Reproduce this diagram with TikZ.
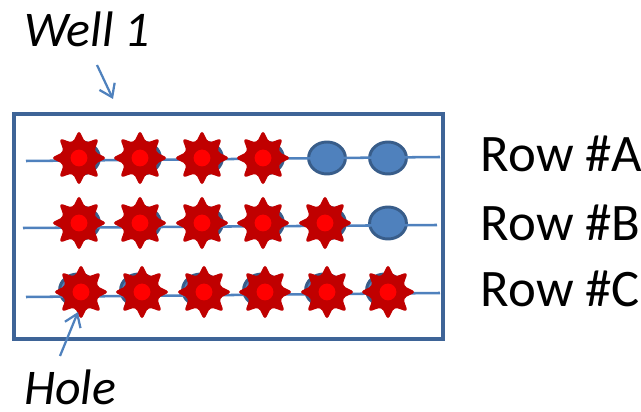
\documentclass[tikz,border=0pt]{standalone}
\usepackage{fontspec}
\setmainfont{Carlito}
\usetikzlibrary{shapes.geometric}
\usetikzlibrary{arrows.meta}

\definecolor{boxblue}{HTML}{3E6497}
\definecolor{lineblue}{HTML}{4F81BD}
\definecolor{holeedge}{HTML}{385D8A}
\definecolor{burstred}{HTML}{C00000}
\definecolor{corered}{HTML}{FF0000}

\tikzset{
  wellbox/.style={draw=boxblue, line width=2.85pt, minimum width=10.72cm, minimum height=5.62cm, inner sep=0pt},
  hole/.style={ellipse, draw=holeedge, fill=lineblue, line width=2.1pt, minimum width=0.92cm, minimum height=0.8cm, inner sep=0pt},
  burst/.style={star, star points=8, star point ratio=1.7, minimum size=1.4cm, inner sep=0pt, fill=burstred, rounded corners=2.6pt},
  core/.style={circle, fill=corered, minimum size=0.42cm, inner sep=0pt},
  rowline/.style={draw=lineblue, line width=1.8pt},
  pointer/.style={draw=lineblue, line width=1.6pt, -{Straight Barb[length=3mm,width=4.2mm]}},
  rowlabel/.style={anchor=base west, font=\fontsize{37.5}{40}\selectfont},
  callout/.style={anchor=base west, inner sep=0pt, font=\fontsize{35.5}{38}\selectfont\itshape},
}

\begin{document}
\begin{tikzpicture}[x=0.025cm, y=-0.025cm]
        \useasboundingbox (0,0) rectangle (641,412);

        % The well outline
        \node[wellbox] (well) at (228.5,226.5) {};

        % Holes of the three rows
        \foreach \col/\x in {1/81,2/142,3/204,4/265,5/327,6/388} {
            \node[hole] (holeA\col) at (\x,158) {};
            \node[hole] (holeB\col) at (\x,223) {};
            \node[hole] (holeC\col) at (\x-3,290) {};
        }

        % Threads through the rows
        \coordinate (rowAleft) at (26,161);
        \coordinate (rowAright) at (440,157);
        \coordinate (rowBleft) at (23,228);
        \coordinate (rowBright) at (437,225);
        \coordinate (rowCleft) at (26,297);
        \coordinate (rowCright) at (440,293);
        \draw[rowline] (rowAleft) -- (rowAright);
        \draw[rowline] (rowBleft) -- (rowBright);
        \draw[rowline] (rowCleft) -- (rowCright);

        % Bursts on the filled holes
        \foreach \col in {1,...,4} {
            \node[burst] (burstA\col) at ([xshift=-2*0.025cm]holeA\col) {};
            \node[core] at (burstA\col) {};
        }
        \foreach \col in {1,...,5} {
            \node[burst] (burstB\col) at ([xshift=-2*0.025cm]holeB\col) {};
            \node[core] at (burstB\col) {};
        }
        \foreach \col in {1,...,6} {
            \node[burst] (burstC\col) at ([xshift=3*0.025cm,yshift=-2*0.025cm]holeC\col) {};
            \node[core] at (burstC\col) {};
        }

        % Row labels
        \node[rowlabel] (labelA) at (476,172) {Row \#A};
        \node[rowlabel] (labelB) at (476,241) {Row \#B};
        \node[rowlabel] (labelC) at (476,307) {Row \#C};

        % Callouts
        \node[callout] (welltext) at (24,47) {Well 1};
        \node[callout] (holetext) at (24,405) {Hole};
        \coordinate (welltail) at (97,65);
        \coordinate (wellhead) at (113,99);
        \coordinate (holetail) at (60,356);
        \coordinate (holehead) at (78,312);
        \draw[pointer] (welltail) -- (wellhead);
        \draw[pointer] (holetail) -- (holehead);
\end{tikzpicture}
\end{document}
